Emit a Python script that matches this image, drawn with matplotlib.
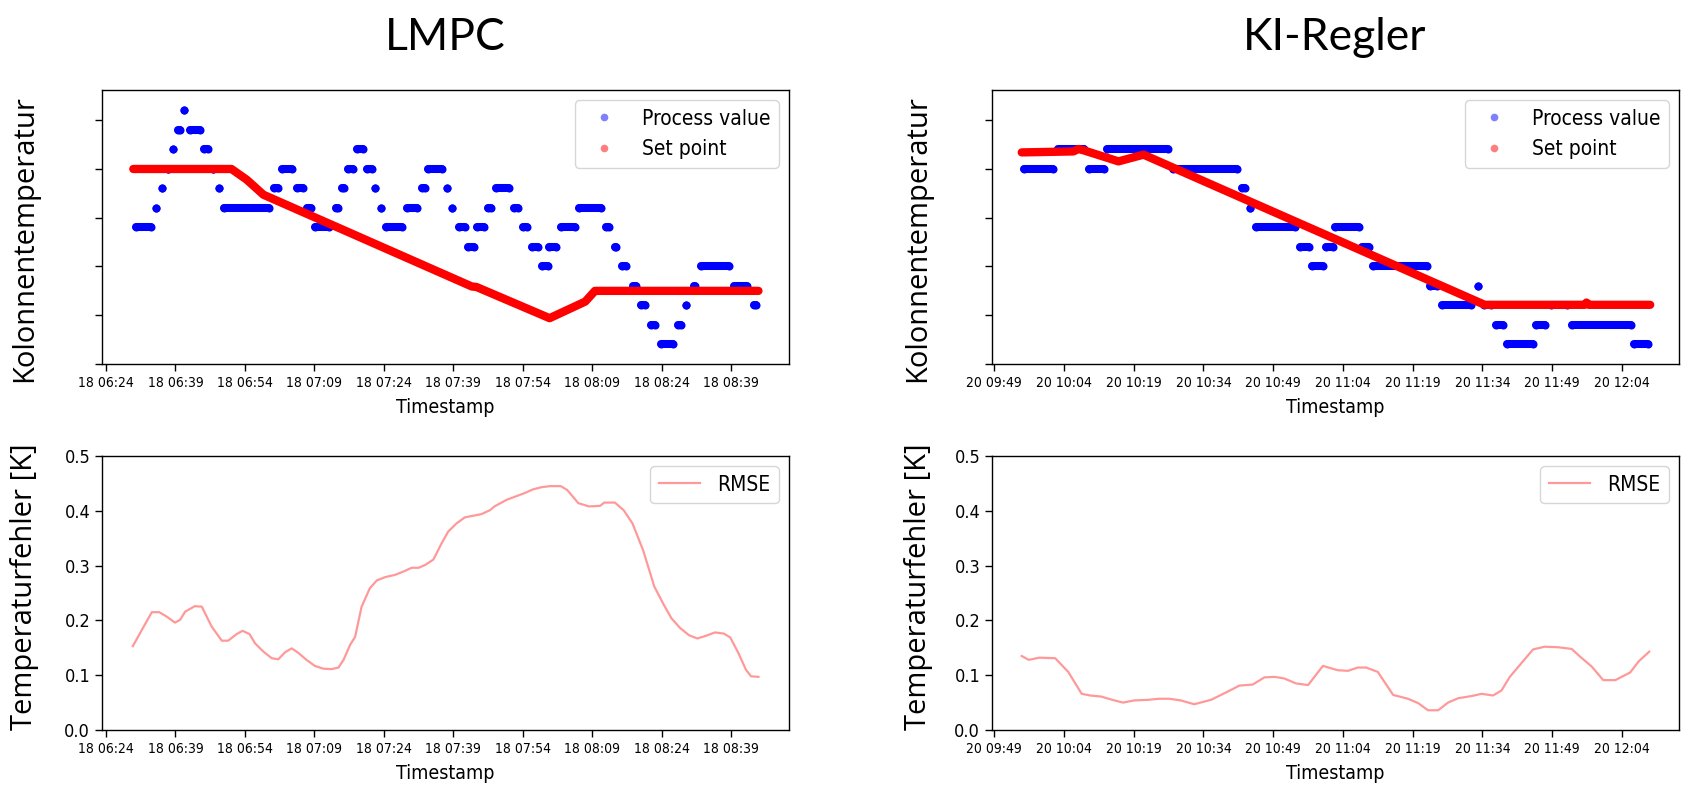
import numpy as np
import pandas as pd
import matplotlib
matplotlib.use('Agg')
import matplotlib.pyplot as plt
import matplotlib.dates as mdates
from matplotlib.lines import Line2D

# --- data (times in minutes after the start stamp) ---
lmpc_start = '2020-02-18 06:24'
ki_start = '2020-02-20 09:49'

# process value: runs of samples held at one level (from, to, value)
lmpc_pv_from = [6.4, 10.9, 12.2, 13.3, 14.5, 15.6, 16.8, 18.2, 21.2, 23.2, 24.5, 25.5, 36.3, 38.1,
                41.2, 43.5, 45.1, 49.6, 51.0, 52.3, 54.3, 56.3, 58.2, 59.4, 60.4, 64.9, 68.3, 69.5,
                73.6, 74.8, 76.2, 78.2, 80.1, 82.4, 84.2, 88.1, 90.1, 92.1, 94.2, 95.7, 98.2, 102.2,
                108.0, 109.9, 111.5, 113.9, 115.6, 117.6, 119.8, 123.6, 125.3, 126.9, 128.5, 135.6, 140.0]
lmpc_pv_to = [9.7, 10.9, 12.2, 13.3, 14.5, 15.9, 16.8, 20.3, 22.0, 23.2, 24.5, 35.3, 37.1, 40.2,
              42.5, 44.3, 48.2, 50.0, 51.5, 53.4, 55.4, 57.5, 58.2, 59.4, 63.9, 67.1, 68.8, 72.6,
              73.6, 74.8, 77.6, 79.4, 81.7, 83.2, 87.1, 88.9, 90.9, 93.2, 95.4, 97.2, 101.2, 107.0,
              108.6, 110.1, 112.3, 114.5, 116.5, 118.6, 122.4, 124.2, 125.3, 127.1, 134.6, 138.4, 140.3]
lmpc_pv_value = [-0.6, -0.4, -0.2, 0.0, 0.2, 0.4, 0.6, 0.4, 0.2, 0.0, -0.2, -0.4, -0.2, 0.0,
                 -0.2, -0.4, -0.6, -0.4, -0.2, 0.0, 0.2, 0.0, -0.2, -0.4, -0.6, -0.4, -0.2, 0.0,
                 -0.2, -0.4, -0.6, -0.8, -0.6, -0.4, -0.2, -0.4, -0.6, -0.8, -1.0, -0.8, -0.6, -0.4,
                 -0.6, -0.8, -1.0, -1.2, -1.4, -1.6, -1.8, -1.6, -1.4, -1.2, -1.0, -1.2, -1.4]

# set point: breakpoints of the trajectory
lmpc_sp_t = [5.9, 27.1, 30.4, 34.0, 79.0, 80.0, 95.8, 103.5, 105.6, 140.9]
lmpc_sp_value = [0.0, 0.0, -0.11, -0.264, -1.205, -1.21, -1.53, -1.36, -1.25, -1.25]

lmpc_rmse_t = [5.8, 7.7, 9.9, 11.5, 13.1, 14.9, 16.0, 17.1, 19.2, 20.7, 22.8, 25.0, 26.4, 28.2,
               29.5, 31.0, 32.2, 34.0, 35.8, 37.2, 38.7, 40.1, 41.5, 43.3, 45.1, 46.9, 48.7, 50.2,
               51.3, 52.7, 53.8, 55.2, 57.0, 58.5, 60.3, 62.4, 64.2, 66.0, 67.5, 68.9, 70.7, 72.5,
               73.9, 75.7, 77.5, 79.3, 81.1, 82.9, 83.9, 86.5, 88.4, 90.3, 92.2, 94.0, 95.9, 98.2,
               99.6, 102.0, 104.3, 106.7, 107.6, 109.9, 111.8, 113.7, 116.0, 118.4, 120.3, 122.1,
               124.0, 125.9, 127.7, 129.6, 131.5, 133.4, 134.8, 136.6, 138.2, 139.3, 140.9]
lmpc_rmse = [0.153, 0.182, 0.215, 0.215, 0.207, 0.196, 0.201, 0.216, 0.226, 0.225, 0.189, 0.163,
             0.163, 0.175, 0.181, 0.175, 0.158, 0.143, 0.131, 0.129, 0.142, 0.149, 0.141, 0.128,
             0.117, 0.112, 0.111, 0.114, 0.128, 0.155, 0.170, 0.225, 0.259, 0.273, 0.279, 0.283,
             0.289, 0.296, 0.296, 0.301, 0.311, 0.341, 0.362, 0.377, 0.388, 0.391, 0.394, 0.401,
             0.408, 0.420, 0.426, 0.432, 0.439, 0.443, 0.445, 0.445, 0.438, 0.414, 0.408, 0.409,
             0.415, 0.415, 0.401, 0.377, 0.328, 0.262, 0.231, 0.204, 0.186, 0.173, 0.167, 0.172,
             0.178, 0.176, 0.169, 0.140, 0.110, 0.098, 0.097]

ki_pv_from = [6.4, 13.6, 20.4, 24.2, 38.4, 53.3, 55.1, 56.3, 65.7, 68.3, 71.4, 73.3, 79.1, 81.4,
              93.7, 96.4, 104.0, 105.3, 108.0, 110.4, 116.6, 119.7, 124.2, 137.6]
ki_pv_to = [12.6, 19.4, 23.5, 37.4, 52.2, 54.0, 55.1, 64.7, 67.6, 70.8, 72.8, 78.4, 80.6, 93.0,
            95.2, 102.5, 104.0, 106.8, 109.5, 115.8, 118.5, 123.2, 136.9, 140.7]
ki_pv_value = [0.0, 0.2, 0.0, 0.2, 0.0, -0.2, -0.4, -0.6, -0.8, -1.0, -0.8, -0.6, -0.8, -1.0,
               -1.2, -1.4, -1.2, -1.4, -1.6, -1.8, -1.6, -1.4, -1.6, -1.8]

ki_sp_t = [5.9, 17.0, 18.1, 19.3, 26.7, 32.1, 105.5, 127.0, 127.4, 127.9, 141.1]
ki_sp_value = [0.17, 0.18, 0.205, 0.19, 0.078, 0.147, -1.393, -1.393, -1.37, -1.393, -1.393]

ki_rmse_t = [5.9, 7.4, 9.7, 13.1, 15.9, 18.8, 20.6, 23.0, 25.4, 27.7, 30.1, 33.0, 35.4, 37.7,
             40.1, 43.0, 46.6, 50.2, 52.7, 55.6, 58.1, 60.3, 62.4, 64.9, 67.5, 70.7, 73.9, 76.1,
             78.2, 80.0, 82.5, 85.8, 89.0, 91.2, 93.3, 95.5, 97.6, 99.8, 102.7, 104.8, 107.3,
             109.1, 110.9, 113.4, 115.9, 118.4, 121.3, 124.2, 126.0, 128.5, 131.0, 133.6, 136.8,
             138.6, 140.9]
ki_rmse = [0.135, 0.128, 0.132, 0.131, 0.106, 0.066, 0.063, 0.061, 0.055, 0.050, 0.054, 0.055,
           0.057, 0.057, 0.054, 0.047, 0.055, 0.070, 0.081, 0.083, 0.096, 0.097, 0.094, 0.085,
           0.082, 0.117, 0.109, 0.108, 0.114, 0.114, 0.106, 0.064, 0.057, 0.049, 0.036, 0.036,
           0.050, 0.058, 0.062, 0.066, 0.063, 0.072, 0.097, 0.122, 0.147, 0.152, 0.151, 0.148,
           0.134, 0.116, 0.091, 0.091, 0.105, 0.125, 0.143]

# tick minutes of each run (15-minute steps starting from the start stamp)
lmpc_tick_minutes = [9, 24, 39, 54]
ki_tick_minutes = [4, 19, 34, 49]
temp_ticks = [-2.0, -1.5, -1.0, -0.5, 0.0, 0.5]
rmse_ticks = [0.0, 0.1, 0.2, 0.3, 0.4, 0.5]

# --- font configuration ---
plt.rcParams['font.family'] = ['DejaVu Sans']
plt.rcParams['font.stretch'] = 'condensed'
plt.rcParams['axes.linewidth'] = 1.0

TITLE_FONT = ['Lato', 'DejaVu Sans']
LABEL_FONT = ['Open Sans', 'DejaVu Sans']


def to_time(start, minutes):
    """Convert minute offsets into timestamps."""
    return pd.Timestamp(start) + pd.to_timedelta(np.asarray(minutes, dtype=float), unit='min')


def style_axis(ax, start, xlim, tick_minutes):
    ax.set_xlim(to_time(start, [xlim[0]])[0], to_time(start, [xlim[1]])[0])
    ax.xaxis.set_major_locator(mdates.MinuteLocator(byminute=tick_minutes))
    ax.xaxis.set_major_formatter(mdates.DateFormatter('%d %H:%M'))
    ax.tick_params(axis='x', labelsize=10, length=5, width=1.0)
    ax.tick_params(axis='y', labelsize=13, length=5, width=1.0)
    ax.set_xlabel('Timestamp', fontsize=14, labelpad=6)


def plot_temperature(ax, start, pv_from, pv_to, pv_value, sp_t, sp_value, xlim, tick_minutes):
    # each held run of process samples as a chain of dots
    t0 = to_time(start, pv_from)
    t1 = to_time(start, pv_to)
    for a, b, v in zip(t0, t1, pv_value):
        ax.plot([a, b], [v, v], color='blue', lw=5.8, marker='o', ms=5.8,
                markeredgewidth=0, solid_capstyle='round', zorder=2)
    ax.plot(to_time(start, sp_t), sp_value, color='red', lw=6.0,
            solid_capstyle='round', solid_joinstyle='round', zorder=3)

    ax.set_ylim(-2.0, 0.81)
    ax.set_yticks(temp_ticks)
    ax.set_yticklabels([])
    style_axis(ax, start, xlim, tick_minutes)

    handles = [
        Line2D([], [], ls='none', marker='o', ms=5.5, color='blue', alpha=0.5, markeredgewidth=0),
        Line2D([], [], ls='none', marker='o', ms=5.5, color='red', alpha=0.5, markeredgewidth=0),
    ]
    ax.legend(handles, ['Process value', 'Set point'], loc='upper right', fontsize=15)


def plot_rmse(ax, start, t, rmse, xlim, tick_minutes):
    ax.plot(to_time(start, t), rmse, color='red', alpha=0.4, lw=1.6, label='RMSE')
    ax.set_ylim(0, 0.5)
    ax.set_yticks(rmse_ticks)
    ax.set_yticklabels([f'{v:.1f}' for v in rmse_ticks])
    style_axis(ax, start, xlim, tick_minutes)
    ax.legend(loc='upper right', fontsize=15)


W, H = 1694, 799
fig = plt.figure(figsize=(W / 100, H / 100), dpi=100)

left_col = 102 / W
right_col = 992 / W
col_w = 687 / W
row_h = 274 / H
top_row = (H - 364) / H
bottom_row = (H - 730) / H

ax_lt = fig.add_axes([left_col, top_row, col_w, row_h])
ax_rt = fig.add_axes([right_col, top_row, col_w, row_h])
ax_lb = fig.add_axes([left_col, bottom_row, col_w, row_h])
ax_rb = fig.add_axes([right_col, bottom_row, col_w, row_h])

plot_temperature(ax_lt, lmpc_start, lmpc_pv_from, lmpc_pv_to, lmpc_pv_value,
                 lmpc_sp_t, lmpc_sp_value, (-0.86, 147.5), lmpc_tick_minutes)
plot_temperature(ax_rt, ki_start, ki_pv_from, ki_pv_to, ki_pv_value,
                 ki_sp_t, ki_sp_value, (-0.5, 147.3), ki_tick_minutes)
plot_rmse(ax_lb, lmpc_start, lmpc_rmse_t, lmpc_rmse, (-0.86, 147.5), lmpc_tick_minutes)
plot_rmse(ax_rb, ki_start, ki_rmse_t, ki_rmse, (-0.5, 147.3), ki_tick_minutes)

# panel titles and the large axis labels
fig.text(445 / W, 1 - 38 / H, 'LMPC', fontsize=32, family=TITLE_FONT,
         fontstretch='normal', ha='center', va='center')
fig.text(1335 / W, 1 - 38 / H, 'KI-Regler', fontsize=32, family=TITLE_FONT,
         fontstretch='normal', ha='center', va='center')
for x in (25, 918):
    fig.text(x / W, 1 - 239 / H, 'Kolonnentemperatur', fontsize=21, family=LABEL_FONT,
             fontstretch='normal', rotation=90, ha='center', va='center')
    fig.text(x / W, 1 - 587 / H, 'Temperaturfehler [K]', fontsize=21, family=LABEL_FONT,
             fontstretch='normal', rotation=90, ha='center', va='center')

fig.savefig('out.png', dpi=100)
